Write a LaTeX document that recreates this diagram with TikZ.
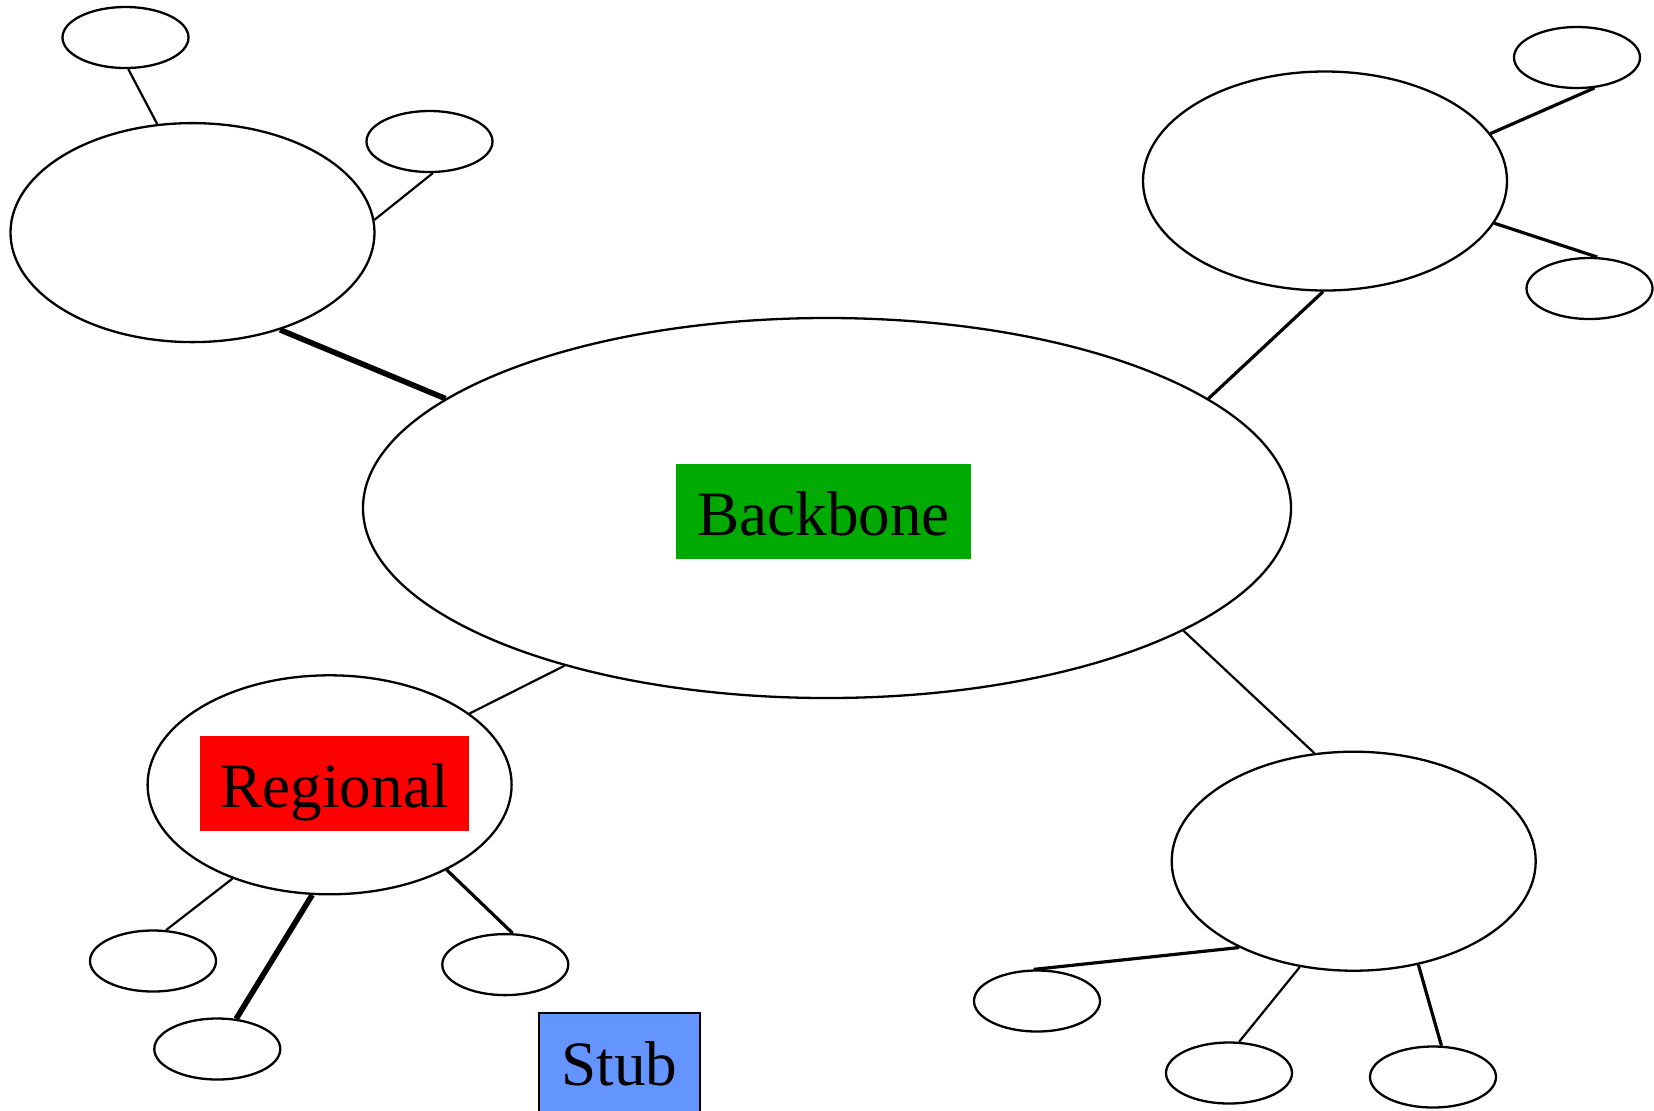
\documentclass[tikz,border=0pt]{standalone}
\usepackage{fontspec}
\setmainfont{Liberation Serif}
\usetikzlibrary{shapes.geometric}
\definecolor{bbgreen}{RGB}{0,170,0}
\definecolor{stubblue}{RGB}{100,149,255}

\begin{document}
\begin{tikzpicture}[x=0.5bp,y=-0.5bp,
  net/.style={draw,ellipse,inner sep=0pt,line width=1.15bp},
  big/.style={net,minimum width=182bp,minimum height=109.5bp},
  small/.style={net,minimum width=63bp,minimum height=30.5bp},
  ln/.style={line width=1.1bp},
  lnm/.style={line width=1.6bp},
  lnt/.style={line width=2.8bp},
  tag/.style={inner sep=0pt,font=\fontsize{31.6bp}{36bp}\selectfont,text height=23.5bp,text depth=0pt,minimum height=47.5bp}]
\path[use as bounding box,clip] (0,0) rectangle (1654,1110);
\node[net,minimum width=464bp,minimum height=190bp] (bb) at (827,508) {};
\node[big] (rtl) at (192.5,232.6) {};
\node[small] (s1) at (125.5,37.5) {};
\node[small] (s2) at (429.5,141.5) {};
\node[big] (rtr) at (1325,181) {};
\node[small] (s3) at (1577,57.5) {};
\node[small] (s4) at (1589.5,288.5) {};
\node[big] (rbl) at (329.6,784.8) {};
\node[small] (s5) at (153,961) {};
\node[small] (s6) at (217.3,1049) {};
\node[small] (s7) at (505.3,964.6) {};
\node[big] (rbr) at (1353.7,861.2) {};
\node[small] (s8) at (1037,1001) {};
\node[small] (s9) at (1229,1073) {};
\node[small] (s10) at (1433,1077) {};
\node[tag,fill=bbgreen,minimum width=147.5bp] (lbb) at (823.5,511.5) {Backbone};
\node[tag,fill=red,minimum width=134.5bp] (lreg) at (334.5,783.5) {Regional};
\node[tag,draw,line width=1bp,fill=stubblue,minimum width=80.5bp,minimum height=55bp,text height=17bp,anchor=north] (lstub) at (619.5,1012) {Stub};
\draw[ln] (s1.-85) -- (rtl.108);
\draw[ln] (s2.-84) -- (rtl.4);
\draw[lnt] (rtl.-48) -- (bb.164);
\draw[lnm] (bb.16) -- (rtr.-91);
\draw[lnm] (rtr.16) -- (s3.-60);
\draw[lnm] (rtr.-14) -- (s4.76);
\draw[ln] (bb.-19.5) -- (rbr.110);
\draw[ln] (bb.-149) -- (rbl.27.5);
\draw[ln] (rbl.-136) -- (s5.67);
\draw[lnt] (rbl.-99) -- (s6.58);
\draw[lnm] (rbl.-36) -- (s7.77);
\draw[lnm] (rbr.-143) -- (s8.96);
\draw[ln] (rbr.-117) -- (s9.72);
\draw[lnm] (rbr.-58) -- (s10.75);
\end{tikzpicture}
\end{document}
